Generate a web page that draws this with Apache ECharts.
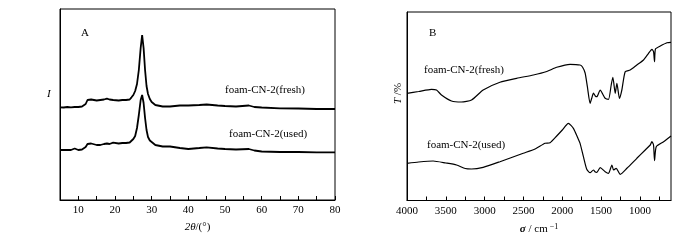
<!DOCTYPE html>
<html>
<head>
<meta charset="utf-8">
<script src="https://cdn.jsdelivr.net/npm/echarts@6/dist/echarts.min.js"></script>
<style>
  html, body { margin: 0; padding: 0; background: #fff; }
  #chart { width: 700px; height: 240px; }
</style>
</head>
<body>
<div id="chart"></div>
<script>
// XRD (panel A)
const xrdTheta = [5, 6, 7, 8, 9, 10, 11, 12, 12.5, 13, 13.5, 14, 15, 16, 17, 17.8, 18.5, 19.5, 20, 21,
  22, 23, 24, 24.5, 25, 25.5, 26, 26.5, 27, 27.4, 27.8, 28.2, 28.6, 29, 29.5, 30, 31, 33, 35, 37.7,
  40, 43, 45, 48, 50, 53, 56.5, 58, 60, 65, 70, 75, 80];
const xrdFresh = [92.7, 92.5, 93, 92.7, 93, 93, 93.5, 96, 100, 101.3, 100.5, 99.5, 99.5, 100, 100.5, 101.3, 100.5, 100, 100, 99.5,
  100, 100, 100.5, 102.7, 105, 109, 116, 130, 152, 165, 152, 130, 114, 106, 101, 98, 95, 93.5, 93.5, 94.5,
  94.5, 95, 95.5, 94.5, 94, 93.5, 94.5, 93, 92.5, 91.7, 91.5, 91, 91];
const xrdUsed = [50, 50, 50, 50, 51.5, 50, 50.5, 53, 56, 57.3, 56.5, 55.5, 55, 55, 56, 56.5, 56, 57.3, 56.5, 56.5,
  57, 57, 57.5, 58.5, 61, 64, 72, 85, 100, 105, 97, 82, 70, 63, 59.5, 57.5, 55, 53.5, 53.5, 52,
  51, 52, 52.7, 51.5, 51, 50.5, 51, 49.5, 48.5, 48, 48, 47.7, 47.7];
const xrdTicks = [10, 20, 30, 40, 50, 60, 70, 80];

// FTIR (panel B)
const ftirWnFresh = [4000, 3850, 3685, 3620, 3556, 3427, 3300, 3169, 3019, 2803, 2588, 2373, 2200, 2072, 1900, 1771, 1740, 1706, 1677, 1642,
  1620, 1599, 1575, 1555, 1512, 1480, 1448, 1405, 1370, 1349, 1318, 1297, 1264, 1233, 1190, 1126, 1040, 954, 889, 846,
  825, 812, 800, 738, 652, 600];
const ftirFresh = [107.2, 109, 111.2, 110.5, 105.5, 99.5, 98.5, 100.5, 110.5, 118.2, 122.2, 125.5, 129, 133.2, 136.2, 135.5, 133.5, 127.5, 113.8, 97.2,
  102.5, 107.5, 104.5, 103.8, 110.5, 106.5, 102.2, 101.2, 115.5, 123.2, 107.2, 117.2, 102.2, 110.5, 128.8, 130.5, 135.5, 140.5, 147.2, 151.2,
  148.8, 138.8, 151.5, 154.5, 157.8, 158.2];
const ftirWnUsed = [4000, 3850, 3664, 3500, 3362, 3250, 3169, 3019, 2803, 2503, 2350, 2222, 2158, 2072, 2000, 1922, 1857, 1800, 1771, 1728,
  1685, 1642, 1599, 1575, 1555, 1512, 1448, 1405, 1361, 1340, 1306, 1254, 1168, 1040, 932, 867, 846, 825, 812, 790,
  695, 600];
const ftirUsed = [37.2, 38.5, 39.5, 37.5, 35.5, 32, 31.5, 33.2, 38.8, 47.2, 51.5, 57.2, 57.8, 64.5, 70.5, 77.2, 72.2, 62.5, 57.2, 43.8,
  31.2, 27.8, 30.5, 28.5, 28.2, 32.8, 28.8, 27.2, 35.5, 30.5, 32.2, 26.2, 32.2, 42.2, 50.5, 55.5, 58.8, 55.5, 39.8, 53.8,
  58.8, 64.5];
const ftirLabels = [4000, 3500, 3000, 2500, 2000, 1500, 1000];
const ftirTicks = [4000, 3750, 3500, 3250, 3000, 2750, 2500, 2250, 2000, 1750, 1500, 1250, 1000, 750];

const font = "Liberation Serif";

function pairs(xs, ys) {
  return xs.map((x, i) => [x, ys[i]]);
}

const chart = echarts.init(document.getElementById("chart"));

const baseX = {
  type: "value",
  axisLine: { show: true, lineStyle: { color: "#000", width: 1 } },
  axisTick: { show: true, inside: true, length: 4, lineStyle: { color: "#000" } },
  axisLabel: { color: "#000", fontFamily: font, fontSize: 11, margin: 5 },
  splitLine: { show: false },
  nameLocation: "middle",
  nameGap: 22,
  nameTextStyle: { color: "#000", fontFamily: font, fontSize: 11 },
};

const baseY = {
  type: "value",
  axisLine: { show: true, lineStyle: { color: "#000" } },
  axisTick: { show: false },
  axisLabel: { show: false },
  splitLine: { show: false },
};

const lineStyle = (w) => ({ color: "#000", width: w });

const option = {
  animation: false,
  grid: [
    { left: 60, top: 9, width: 275, height: 191, show: true, borderColor: "#000", borderWidth: 1 },
    { left: 407, top: 12, width: 264, height: 188.5, show: true, borderColor: "#000", borderWidth: 1 },
  ],
  xAxis: [
    Object.assign({}, baseX, {
      gridIndex: 0,
      min: 5,
      max: 80,
      interval: 5,
      name: "{i|2θ}{n|/(°)}",
      nameTextStyle: {
        rich: {
          i: { fontFamily: font, fontSize: 11, fontStyle: "italic", color: "#000" },
          n: { fontFamily: font, fontSize: 11, color: "#000" },
        },
      },
      axisLabel: Object.assign({}, baseX.axisLabel, {
        formatter: (v) => (xrdTicks.indexOf(v) >= 0 ? String(v) : ""),
      }),
    }),
    Object.assign({}, baseX, {
      gridIndex: 1,
      min: 600,
      max: 4000,
      inverse: true,
      name: "{i|σ}{n| / cm}{s|−1}",
      nameTextStyle: {
        rich: {
          i: { fontFamily: font, fontSize: 11, fontStyle: "italic", fontWeight: "bold", color: "#000" },
          n: { fontFamily: font, fontSize: 11, color: "#000" },
          s: { fontFamily: font, fontSize: 8, color: "#000", verticalAlign: "top", padding: [0, 0, 6, 2] },
        },
      },
      axisTick: Object.assign({}, baseX.axisTick, { customValues: ftirTicks }),
      axisLabel: Object.assign({}, baseX.axisLabel, {
        customValues: ftirLabels,
        formatter: (v) => String(v),
      }),
    }),
  ],
  yAxis: [
    Object.assign({}, baseY, { gridIndex: 0, min: 0, max: 191 }),
    Object.assign({}, baseY, { gridIndex: 1, min: 0, max: 188.5 }),
  ],
  series: [
    {
      name: "foam-CN-2(fresh)", type: "line", xAxisIndex: 0, yAxisIndex: 0,
      data: pairs(xrdTheta, xrdFresh), showSymbol: false, lineStyle: lineStyle(1.8),
    },
    {
      name: "foam-CN-2(used)", type: "line", xAxisIndex: 0, yAxisIndex: 0,
      data: pairs(xrdTheta, xrdUsed), showSymbol: false, lineStyle: lineStyle(1.8),
    },
    {
      name: "foam-CN-2(fresh) IR", type: "line", xAxisIndex: 1, yAxisIndex: 1,
      data: pairs(ftirWnFresh, ftirFresh), showSymbol: false, smooth: 0.2, lineStyle: lineStyle(1.2),
    },
    {
      name: "foam-CN-2(used) IR", type: "line", xAxisIndex: 1, yAxisIndex: 1,
      data: pairs(ftirWnUsed, ftirUsed), showSymbol: false, smooth: 0.2, lineStyle: lineStyle(1.2),
    },
  ],
  graphic: [
    { type: "text", left: 81, top: 28, style: { text: "A", font: "11px " + font, fill: "#000" } },
    { type: "text", left: 429, top: 28, style: { text: "B", font: "11px " + font, fill: "#000" } },
    { type: "text", left: 225, top: 85, style: { text: "foam-CN-2(fresh)", font: "11px " + font, fill: "#000" } },
    { type: "text", left: 229, top: 129, style: { text: "foam-CN-2(used)", font: "11px " + font, fill: "#000" } },
    { type: "text", left: 424, top: 65, style: { text: "foam-CN-2(fresh)", font: "11px " + font, fill: "#000" } },
    { type: "text", left: 427, top: 140, style: { text: "foam-CN-2(used)", font: "11px " + font, fill: "#000" } },
    { type: "text", left: 47, top: 89, style: { text: "I", font: "italic 11px " + font, fill: "#000" } },
    {
      type: "text", x: 393, y: 104, rotation: Math.PI / 2,
      style: {
        text: "{i|T}{n| /%}",
        rich: {
          i: { fontFamily: font, fontSize: 11, fontStyle: "italic", fill: "#000" },
          n: { fontFamily: font, fontSize: 11, fill: "#000" },
        },
      },
    },
  ],
};

chart.setOption(option);
</script>
</body>
</html>
